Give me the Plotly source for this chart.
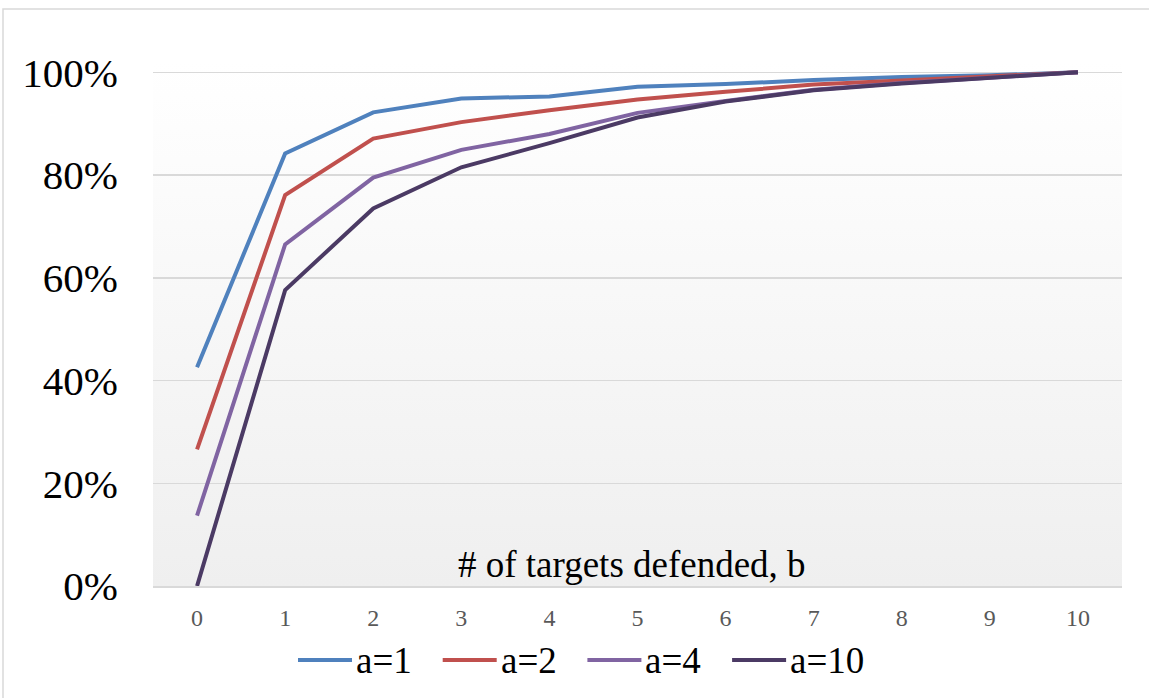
import base64
import plotly.graph_objects as go

b_values = [0, 1, 2, 3, 4, 5, 6, 7, 8, 9, 10]
series_names = ["a=1", "a=2", "a=4", "a=10"]
a1 = [0.426, 0.842, 0.922, 0.949, 0.953, 0.972, 0.977, 0.985, 0.991, 0.994, 1.0]
a2 = [0.266, 0.761, 0.871, 0.903, 0.926, 0.947, 0.962, 0.976, 0.984, 0.992, 1.0]
a4 = [0.137, 0.665, 0.795, 0.849, 0.880, 0.921, 0.944, 0.966, 0.979, 0.990, 1.0]
a10 = [0.0, 0.576, 0.735, 0.815, 0.862, 0.912, 0.943, 0.965, 0.978, 0.989, 1.0]
series_values = [a1, a2, a4, a10]
colors = ["#4F81BD", "#C0504D", "#8064A2", "#4B3A64"]
y_tick_vals = [0, 0.2, 0.4, 0.6, 0.8, 1.0]
x_axis_title = "# of targets defended, b"

W, H = 1149, 698
ml, mr, mt, mb = 153, 27, 62, 112
pw = W - ml - mr
ph = H - mt - mb


def px_x(p):
    return (p - ml) / pw


def px_y(p):
    return (H - mb - p) / ph


fig = go.Figure()
for name, vals, col in zip(series_names, series_values, colors):
    fig.add_trace(go.Scatter(x=b_values, y=vals, name=name, mode="lines",
                             line=dict(color=col, width=4), showlegend=False))

svg = ('<svg xmlns="http://www.w3.org/2000/svg" width="10" height="100" preserveAspectRatio="none">'
       '<defs><linearGradient id="g" x1="0" y1="0" x2="0" y2="1">'
       '<stop offset="0" stop-color="#ffffff"/><stop offset="1" stop-color="#efefef"/>'
       '</linearGradient></defs><rect width="10" height="100" fill="url(#g)"/></svg>')
src = "data:image/svg+xml;base64," + base64.b64encode(svg.encode()).decode()

shapes = [dict(type="rect", xref="paper", yref="paper",
               x0=px_x(3), x1=px_x(W + 60), y0=px_y(H + 60), y1=px_y(9),
               line=dict(color="#D9D9D9", width=1.5), fillcolor="rgba(0,0,0,0)", layer="below")]
annotations = [dict(text=x_axis_title, xref="paper", yref="y", x=px_x(632), y=0.041,
                    xanchor="center", yanchor="middle", showarrow=False,
                    font=dict(family="Liberation Serif", size=37, color="#000000"))]

# custom legend (line sample + label)
leg_start, leg_step, leg_y, line_len = 298, 144.7, 660, 54
for i, (name, col) in enumerate(zip(series_names, colors)):
    x0 = leg_start + i * leg_step
    shapes.append(dict(type="line", xref="paper", yref="paper",
                       x0=px_x(x0), x1=px_x(x0 + line_len), y0=px_y(leg_y), y1=px_y(leg_y),
                       line=dict(color=col, width=4)))
    annotations.append(dict(text=name, xref="paper", yref="paper", x=px_x(x0 + line_len + 2),
                            y=px_y(leg_y), xanchor="left", yanchor="middle", showarrow=False,
                            font=dict(family="Liberation Serif", size=37, color="#000000")))

fig.update_layout(
    width=W, height=H,
    margin=dict(l=ml, r=mr, t=mt, b=mb),
    paper_bgcolor="white",
    plot_bgcolor="rgba(0,0,0,0)",
    images=[dict(source=src, xref="paper", yref="paper", x=0, y=1, sizex=1, sizey=1,
                 sizing="stretch", layer="below", xanchor="left", yanchor="top")],
    xaxis=dict(range=[-0.5, 10.5], tickmode="array", tickvals=b_values,
               showgrid=False, zeroline=False, showline=True, linecolor="#D9D9D9", linewidth=1.5,
               ticks="", ticklabelstandoff=10,
               tickfont=dict(family="Liberation Serif", size=24, color="#595959")),
    yaxis=dict(range=[0, 1.02], tickmode="array", tickvals=y_tick_vals, tickformat=".0%",
               showgrid=True, gridcolor="#D9D9D9", gridwidth=1.5, zeroline=False,
               ticks="", ticklabelstandoff=34,
               tickfont=dict(family="Liberation Serif", size=41, color="#000000")),
    showlegend=False,
    hovermode=False,
    annotations=annotations,
    shapes=shapes,
)

fig.write_html("out.html", config={"displayModeBar": False, "staticPlot": True},
               post_script="document.body.style.margin='0';document.body.style.overflow='hidden';")
